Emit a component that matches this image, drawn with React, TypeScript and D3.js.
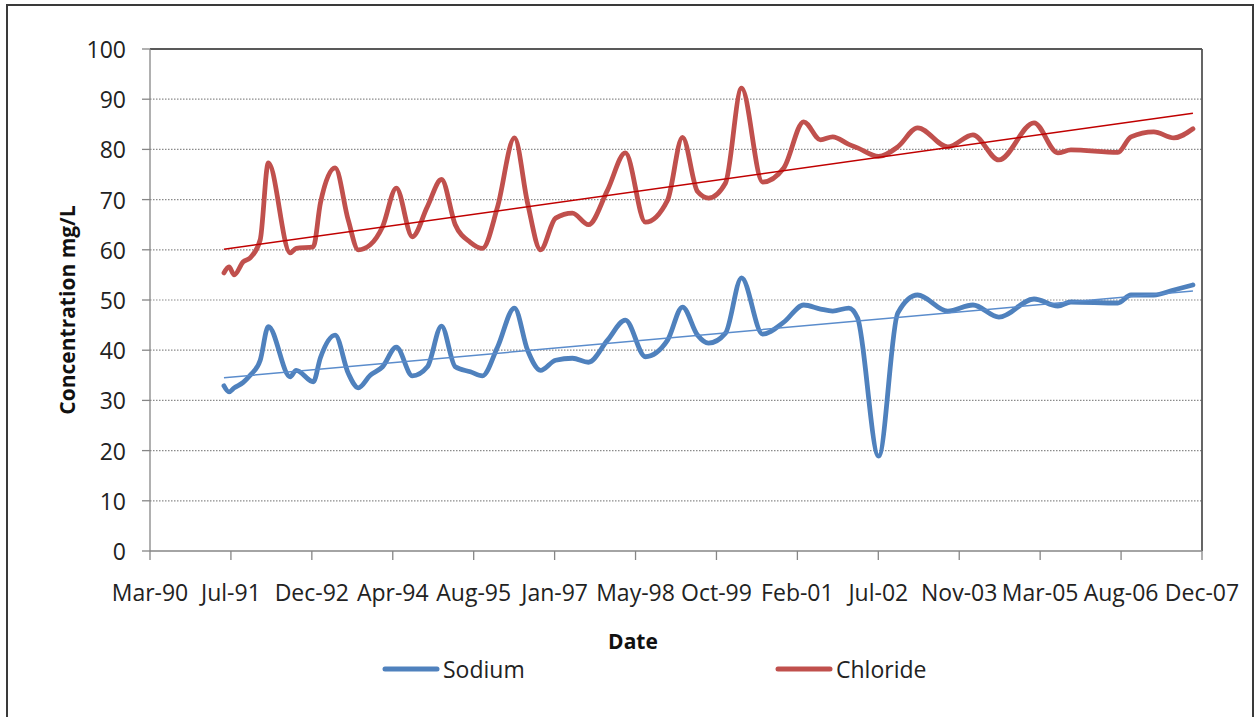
import * as d3 from "d3";

// sampling dates shared by both series
const sampleDates = [
  "1991-06-08", "1991-07-09", "1991-08-10", "1991-10-05", "1991-11-17", "1992-01-18",
  "1992-03-08", "1992-07-21", "1992-08-27", "1992-12-11", "1993-01-24", "1993-04-25",
  "1993-07-15", "1993-09-15", "1993-11-28", "1994-02-12", "1994-05-08", "1994-08-15",
  "1994-11-16", "1995-02-11", "1995-05-07", "1995-08-08", "1995-10-22", "1996-01-23",
  "1996-05-07", "1996-07-27", "1996-10-15", "1997-01-16", "1997-04-30", "1997-08-07",
  "1997-12-03", "1998-03-23", "1998-07-25", "1998-12-09", "1999-03-11", "1999-06-12",
  "1999-08-19", "1999-12-02", "2000-03-10", "2000-07-18", "2000-11-26", "2001-03-29",
  "2001-07-11", "2001-09-24", "2002-01-02", "2002-02-25", "2002-07-05", "2002-10-31",
  "2003-03-03", "2003-09-05", "2004-02-08", "2004-07-17", "2005-02-19", "2005-07-16",
  "2005-10-05", "2006-07-22", "2006-10-11", "2007-03-01", "2007-07-03", "2007-10-29",
];

const sodium = [
  32.9, 31.7, 32.5, 33.6, 35.0, 38.0, 44.7, 34.7, 36.0, 33.7, 38.5, 43.0,
  35.4, 32.5, 35.0, 36.7, 40.6, 34.9, 36.7, 44.8, 36.7, 35.7, 34.9, 40.6,
  48.4, 40.0, 36.0, 38.0, 38.4, 37.6, 42.0, 46.0, 38.7, 42.0, 48.6, 43.0,
  41.4, 43.4, 54.4, 43.2, 45.6, 49.0, 48.2, 47.8, 48.4, 46.4, 18.9, 47.4,
  51.0, 47.8, 49.0, 46.6, 50.2, 48.8, 49.6, 49.4, 51.0, 51.0, 52.0, 53.0,
];

const chloride = [
  55.4, 56.6, 55.0, 57.6, 58.4, 62.0, 77.3, 59.4, 60.3, 60.6, 69.3, 76.3,
  65.9, 60.0, 61.0, 64.6, 72.3, 62.6, 68.6, 74.0, 65.0, 61.5, 60.3, 68.5,
  82.3, 69.3, 60.0, 66.3, 67.3, 65.0, 71.9, 79.3, 65.5, 69.9, 82.4, 71.6,
  70.3, 73.3, 92.2, 73.5, 76.3, 85.5, 81.9, 82.5, 81.0, 80.3, 78.6, 80.5,
  84.3, 80.5, 82.9, 77.9, 85.3, 79.3, 79.9, 79.4, 82.5, 83.5, 82.3, 84.1,
];

// linear trendline end values
const trendDates = ["1991-06-08", "2007-10-29"];
const sodiumTrend = [34.5, 51.8];
const chlorideTrend = [60.1, 87.2];

const yTicks = [0, 10, 20, 30, 40, 50, 60, 70, 80, 90, 100];
const axisStart = "1990-03-08";
const tickStepDays = 500;
const tickCount = 14;

const W = 1257;
const H = 717;
const plot = { left: 150, right: 1202, top: 49, bottom: 551 };
const FONT = "'Open Sans', 'Noto Sans', sans-serif";
const BLUE = "#4F81BD";
const RED = "#C0504D";

const parse = d3.utcParse("%Y-%m-%d");
const fmt = d3.utcFormat("%b-%y");

export default function App() {
  const start = parse(axisStart)!;
  const x = d3
    .scaleUtc()
    .domain([start, d3.utcDay.offset(start, tickStepDays * (tickCount - 1))])
    .range([plot.left, plot.right]);
  const y = d3.scaleLinear().domain([0, 100]).range([plot.bottom, plot.top]);
  const xTicks = d3.range(tickCount).map((k) => d3.utcDay.offset(start, k * tickStepDays));

  const dates = sampleDates.map((d) => parse(d)!);
  const line = d3
    .line<number>()
    .x((_, i) => x(dates[i]))
    .y((v) => y(v))
    .curve(d3.curveMonotoneX);

  const tDates = trendDates.map((d) => parse(d)!);
  const trend = d3
    .line<number>()
    .x((_, i) => x(tDates[i]))
    .y((v) => y(v));

  return (
    <svg
      width={W}
      height={H}
      style={{ position: "absolute", left: 0, top: 0, background: "#fff" }}
      fontFamily={FONT}
    >
      <rect x={0} y={0} width={W} height={H} fill="#fff" />
      <rect x={7} y={5} width={1246} height={H + 10} fill="none" stroke="#3a3a3a" strokeWidth={2} />

      {/* grid */}
      {yTicks.slice(1, -1).map((t) => (
        <line
          key={t}
          x1={plot.left}
          x2={plot.right}
          y1={y(t)}
          y2={y(t)}
          stroke="#8a8a8a"
          strokeWidth={1.2}
          strokeDasharray="1.5,1.5"
        />
      ))}
      {/* plot border top/right */}
      <line x1={plot.left} x2={plot.right} y1={plot.top} y2={plot.top} stroke="#222" strokeWidth={1.3} />
      <line x1={plot.right} x2={plot.right} y1={plot.top} y2={plot.bottom} stroke="#555" strokeWidth={1.8} />

      {/* y axis */}
      <line x1={plot.left} x2={plot.left} y1={plot.top} y2={plot.bottom} stroke="#868686" strokeWidth={1.3} />
      {yTicks.map((t) => (
        <g key={t}>
          <line x1={plot.left - 8} x2={plot.left} y1={y(t)} y2={y(t)} stroke="#868686" strokeWidth={1.3} />
          <text x={126} y={y(t)} textAnchor="end" dominantBaseline="central" fontSize={23} fill="#222">
            {t}
          </text>
        </g>
      ))}

      {/* x axis */}
      <line x1={plot.left} x2={plot.right} y1={plot.bottom} y2={plot.bottom} stroke="#868686" strokeWidth={1.3} />
      {xTicks.map((t, i) => (
        <g key={i}>
          <line x1={x(t)} x2={x(t)} y1={plot.bottom} y2={plot.bottom + 9} stroke="#868686" strokeWidth={1.3} />
          <text x={x(t)} y={601} textAnchor="middle" fontSize={23} fill="#222">
            {fmt(t)}
          </text>
        </g>
      ))}

      {/* series */}
      <path d={line(chloride)!} fill="none" stroke={RED} strokeWidth={4.8} strokeLinejoin="round" strokeLinecap="round" />
      <path d={line(sodium)!} fill="none" stroke={BLUE} strokeWidth={4.8} strokeLinejoin="round" strokeLinecap="round" />
      <path d={trend(chlorideTrend)!} fill="none" stroke="#C00000" strokeWidth={1.5} />
      <path d={trend(sodiumTrend)!} fill="none" stroke="#5a8ccc" strokeWidth={1.5} />

      {/* axis titles */}
      <text x={633} y={649} textAnchor="middle" fontSize={21} fontWeight="bold" fill="#111">
        Date
      </text>
      <text
        transform={`translate(75,${(plot.top + plot.bottom) / 2 + 10}) rotate(-90)`}
        textAnchor="middle"
        fontSize={21}
        fontWeight="bold"
        fill="#111"
      >
        Concentration mg/L
      </text>

      {/* legend */}
      {[
        { name: "Sodium", color: BLUE, x0: 385 },
        { name: "Chloride", color: RED, x0: 778 },
      ].map((d) => (
        <g key={d.name}>
          <line x1={d.x0} x2={d.x0 + 52} y1={669} y2={669} stroke={d.color} strokeWidth={5} strokeLinecap="round" />
          <text x={d.x0 + 58} y={669} dominantBaseline="central" fontSize={23} fill="#222">
            {d.name}
          </text>
        </g>
      ))}
    </svg>
  );
}
